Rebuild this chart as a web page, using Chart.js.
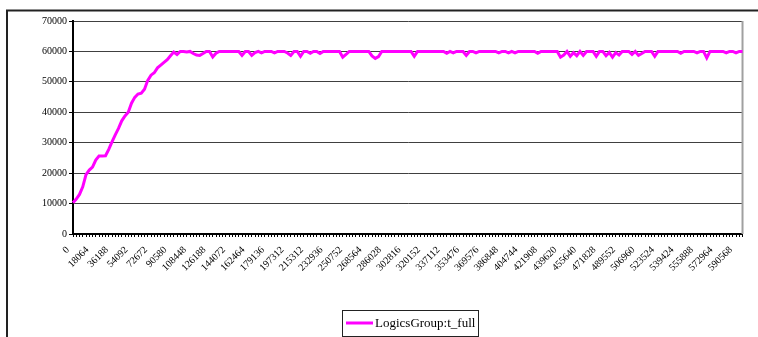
<!DOCTYPE html>
<html>
<head>
<meta charset="utf-8">
<style>
  html, body { margin: 0; padding: 0; background: #ffffff; }
  #wrap { position: relative; width: 758px; height: 337px; }
  canvas { display: block; }
</style>
<script src="https://cdn.jsdelivr.net/npm/chart.js@4.4.1/dist/chart.umd.min.js"></script>
</head>
<body>
<div id="wrap"><canvas id="c" width="758" height="337"></canvas></div>
<script>
// Series name shown in the legend
const seriesName = 'LogicsGroup:t_full';

// Sampled t_full values, one per category step (6 steps between labelled ticks)
const tFull = [
  10300, 11500, 13000, 15500, 19500, 21000, 22000, 24300, 25600, 25600,
  25700, 27800, 30300, 32600, 34700, 37200, 38800, 40000, 43000, 44900,
  46000, 46300, 47600, 50500, 52200, 53000, 54600, 55500, 56400, 57300,
  58600, 59800, 59000, 60000, 60000, 59800, 60000, 59300, 58800, 58700,
  59300, 60000, 60000, 58200, 59400, 60000, 60000, 60000, 60000, 60000,
  60000, 60000, 58700, 60000, 60000, 58700, 59600, 60000, 59500, 60000,
  60000, 60000, 59500, 60000, 60000, 60000, 59500, 58700, 60000, 60000,
  58400, 60000, 60000, 59400, 60000, 60000, 59300, 60000, 60000, 60000,
  60000, 60000, 60000, 58100, 59000, 60000, 60000, 60000, 60000, 60000,
  60000, 60000, 58500, 57700, 58300, 60000, 60000, 60000, 60000, 60000,
  60000, 60000, 60000, 60000, 60000, 58400, 60000, 60000, 60000, 60000,
  60000, 60000, 60000, 60000, 60000, 59400, 60000, 59500, 60000, 60000,
  60000, 58700, 60000, 60000, 59500, 60000, 60000, 60000, 60000, 60000,
  60000, 59500, 60000, 60000, 59500, 60000, 59500, 60000, 60000, 60000,
  60000, 60000, 60000, 59400, 60000, 60000, 60000, 60000, 60000, 60000,
  58100, 58800, 60000, 58400, 59600, 58600, 60000, 58700, 60000, 60000,
  60000, 58400, 60000, 60000, 58600, 59700, 58100, 59600, 58800, 60000,
  60000, 60000, 59000, 60000, 58700, 59300, 60000, 60000, 60000, 58400,
  60000, 60000, 60000, 60000, 60000, 60000, 60000, 59400, 60000, 60000,
  60000, 60000, 59500, 60000, 60000, 57900, 60000, 60000, 60000, 60000,
  60000, 59500, 60000, 60000, 59500, 60000, 60000
];

// Labelled x positions (time stamps), one every 6 samples
const xTickLabels = [
  '0', '18064', '36188', '54092', '72672', '90580', '108448', '126188',
  '144072', '162464', '179136', '197312', '215312', '232936', '250752',
  '268564', '286028', '302816', '320152', '337112', '353476', '369576',
  '386848', '404744', '421908', '439620', '455640', '471828', '489552',
  '506960', '523524', '539424', '555888', '572964', '590568'
];
const stepsPerLabel = 6;

// Y axis range
const yMin = 0, yMax = 70000, yStep = 10000;

// Sample index categories
const categories = tFull.map((_, i) => i);

const serif = "'Liberation Serif', 'Times New Roman', serif";

// Page frame and plot-area outline
const framePlugin = {
  id: 'frame',
  beforeDraw(chart) {
    const ctx = chart.ctx;
    ctx.save();
    ctx.fillStyle = '#ffffff';
    ctx.fillRect(0, 0, chart.width, chart.height);
    ctx.strokeStyle = '#222222';
    ctx.lineWidth = 2;
    ctx.beginPath();
    ctx.moveTo(7, chart.height);
    ctx.lineTo(7, 10.5);
    ctx.lineTo(chart.width, 10.5);
    ctx.stroke();
    ctx.restore();
  },
  beforeDatasetsDraw(chart) {
    const a = chart.chartArea;
    const ctx = chart.ctx;
    ctx.save();
    ctx.strokeStyle = '#a0a0a0';
    ctx.lineWidth = 2;
    ctx.beginPath();
    ctx.moveTo(a.right, a.top);
    ctx.lineTo(a.right, a.bottom);
    ctx.stroke();
    ctx.restore();
  }
};

// Boxed legend below the axis labels
const boxLegendPlugin = {
  id: 'boxLegend',
  afterDraw(chart) {
    const ctx = chart.ctx;
    const ds = chart.data.datasets[0];
    const bx = 342, by = 310, bw = 136, bh = 26;
    ctx.save();
    ctx.fillStyle = '#ffffff';
    ctx.fillRect(bx, by, bw, bh);
    ctx.strokeStyle = '#222222';
    ctx.lineWidth = 1;
    ctx.strokeRect(bx + 0.5, by + 0.5, bw, bh);
    const ly = by + 13;
    ctx.strokeStyle = ds.borderColor;
    ctx.lineWidth = 3;
    ctx.beginPath();
    ctx.moveTo(bx + 4, ly);
    ctx.lineTo(bx + 31, ly);
    ctx.stroke();
    ctx.fillStyle = '#000000';
    ctx.font = '13px ' + serif;
    ctx.textBaseline = 'middle';
    ctx.textAlign = 'left';
    ctx.fillText(ds.label, bx + 33, ly + 1);
    ctx.restore();
  }
};

new Chart(document.getElementById('c'), {
  type: 'line',
  data: {
    labels: categories,
    datasets: [{
      label: seriesName,
      data: tFull,
      borderColor: '#ff00ff',
      backgroundColor: '#ff00ff',
      borderWidth: 3,
      pointRadius: 0,
      tension: 0,
      fill: false
    }]
  },
  options: {
    responsive: false,
    animation: false,
    devicePixelRatio: 1,
    layout: { padding: { top: 21, right: 11, left: 0, bottom: 0 } },
    plugins: {
      legend: { display: false },
      tooltip: { enabled: false }
    },
    scales: {
      x: {
        type: 'category',
        offset: false,
        border: { display: true, color: '#000000', width: 2 },
        grid: {
          display: true,
          drawOnChartArea: false,
          drawTicks: true,
          tickLength: 3,
          color: '#000000',
          lineWidth: 1
        },
        ticks: {
          autoSkip: false,
          maxRotation: 45,
          minRotation: 45,
          padding: 7,
          labelOffset: -5,
          color: '#000000',
          font: { family: serif, size: 10 },
          callback: (value, index) =>
            index % stepsPerLabel === 0 ? (xTickLabels[index / stepsPerLabel] ?? '') : ''
        },
        afterFit(scale) { scale.height = 103; }
      },
      y: {
        min: yMin,
        max: yMax,
        border: { display: true, color: '#000000', width: 2 },
        grid: {
          color: '#404040',
          lineWidth: 1,
          drawTicks: true,
          tickLength: 4,
          tickColor: '#000000'
        },
        ticks: {
          stepSize: yStep,
          padding: 2,
          color: '#000000',
          font: { family: serif, size: 10 },
          callback: (value) => String(value)
        },
        afterFit(scale) { scale.width = 73; }
      }
    }
  },
  plugins: [framePlugin, boxLegendPlugin]
});
</script>
</body>
</html>
